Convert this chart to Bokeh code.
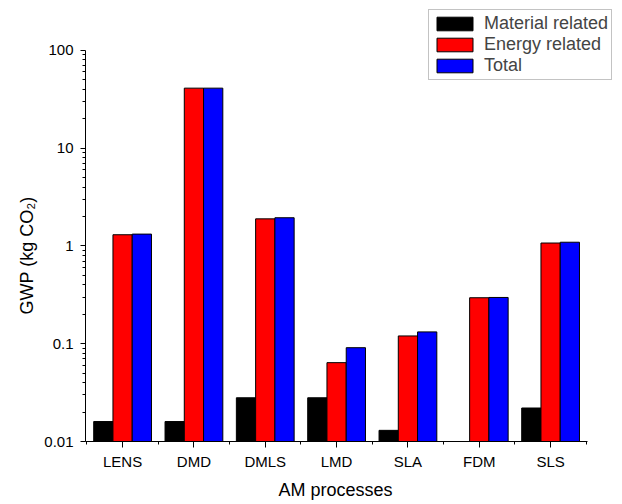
import numpy as np
from bokeh.plotting import figure
from bokeh.models import (ColumnDataSource, Range1d, FixedTicker, CustomJSTickFormatter,
                          Legend, LegendItem, Title)
from bokeh.embed import file_html
from bokeh.resources import INLINE

processes = ["LENS", "DMD", "DMLS", "LMD", "SLA", "FDM", "SLS"]
material = [0.016, 0.016, 0.028, 0.028, 0.013, None, 0.022]
energy = [1.30, 41.0, 1.89, 0.064, 0.12, 0.295, 1.07]
total = [1.32, 41.0, 1.94, 0.091, 0.132, 0.297, 1.09]
series_names = ["Material related", "Energy related", "Total"]
series_colors = ["#000000", "#ff0000", "#0000ff"]
y_ticks = [0.01, 0.1, 1, 10, 100]

FONT = "Liberation Sans"

p = figure(width=622, height=504, y_axis_type="log",
           x_range=Range1d(-0.52, 6.98), y_range=Range1d(0.01, 287),
           min_border_left=85, min_border_right=2, min_border_top=5, min_border_bottom=61,
           output_backend="svg", toolbar_location=None)

bar_w = 0.27
offsets = [-bar_w, 0.0, bar_w]
items = []
for name, vals, color, off in zip(series_names, [material, energy, total], series_colors, offsets):
    xs = [i + off for i, v in enumerate(vals) if v is not None]
    tops = [v for v in vals if v is not None]
    src = ColumnDataSource(dict(x=xs, top=tops))
    r = p.vbar(x="x", top="top", bottom=0.01, width=bar_w, source=src,
               fill_color=color, line_color="black", line_width=1)
    items.append(LegendItem(label=name, renderers=[r]))

p.xgrid.visible = False
p.ygrid.visible = False
p.outline_line_color = None
p.background_fill_color = "white"
p.border_fill_color = "white"

xa = p.xaxis[0]
xa.ticker = FixedTicker(ticks=list(range(len(processes))),
                        minor_ticks=[i - 0.5 for i in range(len(processes) + 1)])
xa.major_label_overrides = {i: n for i, n in enumerate(processes)}
xa.bounds = (-0.52, 6.52)
xa.major_tick_out = 6
xa.major_tick_in = 0
xa.minor_tick_out = 3
xa.minor_tick_in = 0
xa.major_label_standoff = 5
xa.major_label_text_font = FONT
xa.major_label_text_font_size = "15px"
xa.major_label_text_color = "black"
xa.axis_line_color = "black"

ya = p.yaxis[0]
ya.ticker = FixedTicker(ticks=y_ticks,
                        minor_ticks=[m * 10.0 ** e for e in range(-2, 2) for m in range(2, 10)])
ya.formatter = CustomJSTickFormatter(code="return tick.toString();")
ya.bounds = (0.01, 100)
ya.major_tick_out = 5
ya.major_tick_in = 0
ya.minor_tick_out = 3
ya.minor_tick_in = 0
ya.major_label_standoff = 7
ya.major_label_text_font = FONT
ya.major_label_text_font_size = "15px"
ya.major_label_text_color = "black"
ya.axis_line_color = "black"

legend = Legend(items=items, location=(343, 361),
                label_text_font=FONT, label_text_font_size="18px",
                glyph_width=45, glyph_height=17, label_standoff=7,
                label_height=17, spacing=0, padding=3, margin=0,
                border_line_color="#888888", border_line_width=1,
                background_fill_color="white", background_fill_alpha=1)
p.add_layout(legend)

ytitle = Title(text="GWP (kg CO₂)", align="left", offset=127,
               text_font=FONT, text_font_size="18px", text_font_style="normal",
               text_color="black")
xtitle = Title(text="AM processes", align="left", offset=193,
               text_font=FONT, text_font_size="18px", text_font_style="normal",
               text_color="black")
p.add_layout(ytitle, "left")
p.add_layout(xtitle, "below")

open("out.html", "w").write(file_html(p, INLINE))
